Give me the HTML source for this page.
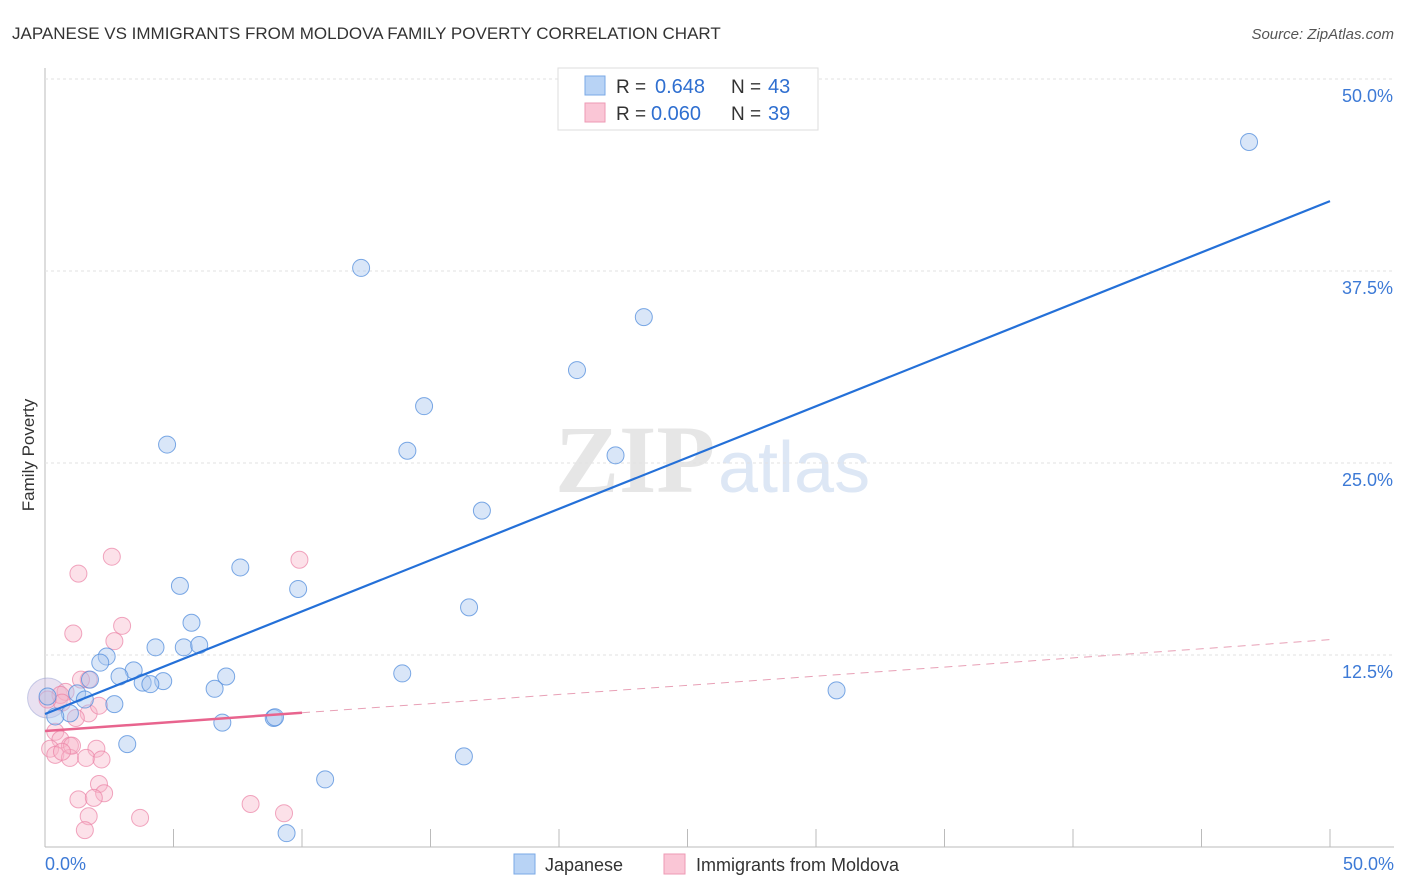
<!DOCTYPE html>
<html><head><meta charset="utf-8"><style>
body{margin:0;background:#fff;font-family:"Liberation Sans",sans-serif}
svg{display:block}
</style></head><body>
<svg id="c" width="1406" height="892">
<text x="12" y="39" font-size="17" fill="#333">JAPANESE VS IMMIGRANTS FROM MOLDOVA FAMILY POVERTY CORRELATION CHART</text>
<text x="1394" y="39" font-size="15" fill="#555" text-anchor="end" font-style="italic">Source: ZipAtlas.com</text>
<text x="34" y="455" font-size="17" fill="#333" transform="rotate(-90 34 455)" text-anchor="middle">Family Poverty</text>
<g><text x="555" y="492" font-size="96" fill="#e6e6e6" font-family="Liberation Serif" font-weight="bold">ZIP</text><text x="718" y="492" font-size="72" fill="#dde7f5">atlas</text></g>
<g id="grid"></g><g id="marks"></g>
<g>
<rect x="558" y="68" width="260" height="62" fill="#fff" stroke="#ddd"/>
<rect x="585" y="76" width="20" height="19" fill="#b8d3f5" stroke="#7aa8e6"/>
<rect x="585" y="103" width="20" height="19" fill="#fac6d6" stroke="#ee9ab4"/>
<text x="616" y="93" font-size="19" fill="#333">R =</text><text x="655" y="93" font-size="20" fill="#2f6fd0">0.648</text>
<text x="731" y="93" font-size="19" fill="#333">N =</text><text x="768" y="93" font-size="20" fill="#2f6fd0">43</text>
<text x="616" y="120" font-size="19" fill="#333">R =</text><text x="651" y="120" font-size="20" fill="#2f6fd0">0.060</text>
<text x="731" y="120" font-size="19" fill="#333">N =</text><text x="768" y="120" font-size="20" fill="#2f6fd0">39</text>
</g>
<g>
<rect x="514" y="854" width="21" height="20" fill="#b8d3f5" stroke="#7aa8e6"/>
<text x="545" y="871" font-size="18" fill="#333">Japanese</text>
<rect x="664" y="854" width="21" height="20" fill="#fac6d6" stroke="#ee9ab4"/>
<text x="696" y="871" font-size="18" fill="#333">Immigrants from Moldova</text>
</g>
</svg>
<script>
const yTicks=[12.5,25,37.5,50];
const yTickLabels=["12.5%","25.0%","37.5%","50.0%"];
const xTickLabels=["0.0%","50.0%"];
const japX=[46.85,12.3,23.3,20.7,14.75,14.1,22.2,4.75,17.0,7.6,5.25,9.85,16.5,5.7,4.3,5.4,6.0,2.4,2.15,3.45,2.9,4.6,3.8,4.1,7.05,6.6,13.9,30.8,1.75,1.25,1.55,2.7,0.97,0.4,6.9,8.9,8.95,3.2,16.3,10.9,9.4,0.1];
const japY=[45.9,37.7,34.5,31.05,28.7,25.8,25.5,26.2,21.9,18.2,17.0,16.8,15.6,14.6,13.0,13.0,13.15,12.4,12.0,11.5,11.1,10.8,10.7,10.6,11.1,10.3,11.3,10.2,10.9,10.0,9.6,9.3,8.7,8.5,8.1,8.4,8.45,6.7,5.9,4.4,0.9,9.8];
const molX=[2.6,1.3,9.9,3.0,2.7,1.1,1.7,1.4,0.8,0.6,1.7,2.1,1.2,0.4,0.6,0.97,0.2,0.4,0.97,2.0,1.6,2.2,1.05,0.66,2.1,2.3,1.3,1.9,1.7,1.55,3.7,8.0,9.3,0.66,0.1];
const molY=[18.9,17.8,18.7,14.4,13.4,13.9,10.9,10.9,10.1,9.9,8.7,9.2,8.4,7.5,7.0,6.6,6.4,6.0,5.8,6.4,5.8,5.7,6.6,6.2,4.1,3.5,3.1,3.2,2.0,1.1,1.9,2.8,2.2,9.4,9.6];
const japTrend=[8.66,42.05];
const molTrend=[7.55,13.5];
const X=v=>45+v*25.7, Y=v=>847-v*15.36;
const NS="http://www.w3.org/2000/svg";
const g=document.getElementById('grid'), m=document.getElementById('marks');
function el(p,t,a){const e=document.createElementNS(NS,t);for(const k in a)e.setAttribute(k,a[k]);p.appendChild(e);return e;}
let ax=el(g,'line',{x1:45,y1:68,x2:45,y2:847,stroke:'#bbb'});


let bx=el(g,'line',{x1:45,y1:847,x2:1394,y2:847,stroke:'#bbb'});


for(let i=1;i<=10;i++){let t=el(g,'line',{x1:45+i*128.5,y1:829,x2:45+i*128.5,y2:847,stroke:'#bbb'});

}
yTicks.forEach((v,i)=>{let l=el(g,'line',{x1:45,x2:1394,y1:Y(v),y2:Y(v),stroke:'#e2e2e2','stroke-dasharray':'3,3'});


let t=el(g,'text',{x:1393,y:Y(v)+23,'font-size':18,fill:'#3d7ad6','text-anchor':'end'});t.textContent=yTickLabels[i];

});
[[0,'start',45],[50,'end',1394]].forEach((a,i)=>{let t=el(g,'text',{x:a[2],y:870,'font-size':18,fill:'#3d7ad6','text-anchor':a[1]});t.textContent=xTickLabels[i];

});
let big1=el(m,'circle',{cx:X(0.1),cy:Y(9.7),r:20,fill:'rgba(200,180,220,0.4)',stroke:'rgba(150,160,210,0.5)'});


molX.forEach((x,i)=>{let c=el(m,'circle',{cx:X(x),cy:Y(molY[i]),r:8.5,fill:'rgba(248,180,200,0.4)',stroke:'rgba(235,130,165,0.7)'});

});
japX.forEach((x,i)=>{let c=el(m,'circle',{cx:X(x),cy:Y(japY[i]),r:8.5,fill:'rgba(170,200,240,0.45)',stroke:'rgba(80,140,220,0.75)'});

});
let jl=el(m,'line',{x1:X(0),y1:Y(japTrend[0]),x2:X(50),y2:Y(japTrend[1]),stroke:'#2470d8','stroke-width':2.2});


const mAt=v=>molTrend[0]+(molTrend[1]-molTrend[0])*v/50;
let ml=el(m,'line',{x1:X(0),y1:Y(mAt(0)),x2:X(10),y2:Y(mAt(10)),stroke:'#e8648e','stroke-width':2.5});


let md=el(m,'line',{x1:X(10),y1:Y(mAt(10)),x2:X(50),y2:Y(mAt(50)),stroke:'#e8a0b6','stroke-width':1,'stroke-dasharray':'8,6'});


</script>
</body></html>
